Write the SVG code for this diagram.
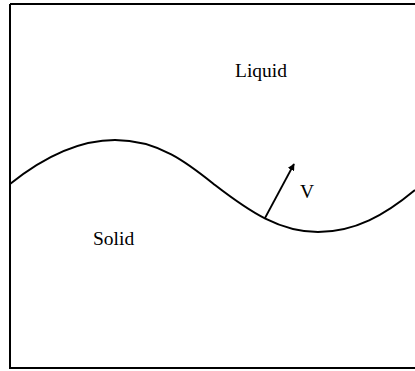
<svg xmlns="http://www.w3.org/2000/svg" width="415" height="371" viewBox="0 0 415 371">
<style>
.ln{fill:none;stroke:#000;stroke-width:2}
.lbl{font-family:"Liberation Serif","Times New Roman",serif;font-size:19.5px;fill:#000}
</style>
<defs>
<marker id="ah" viewBox="0 0 10 10" refX="9" refY="5" markerWidth="7" markerHeight="7" markerUnits="userSpaceOnUse" orient="auto">
<path d="M0,0 L10,5 L0,10 Z" fill="#000"/>
</marker>
</defs>
<rect width="415" height="371" fill="#fff"/>
<g id="frame">
<path class="ln" d="M10,4 H415 M10,4 V368 H415"/>
</g>
<g id="interface">
<path class="ln" d="M10,184 C40,160 75,140 115,140 C160,140 190,165 215,185 C250,212 280,232 318,232 C355,232 385,215 415,190"/>
</g>
<g id="connectors">
<line x1="265" y1="218" x2="294" y2="164" stroke="#000" stroke-width="1.8" marker-end="url(#ah)"/>
</g>
<g id="liquid"><text class="lbl" x="235" y="77">Liquid</text></g>
<g id="solid"><text class="lbl" x="93" y="245">Solid</text></g>
<g id="velocity"><text class="lbl" x="300" y="198">V</text></g>
</svg>
